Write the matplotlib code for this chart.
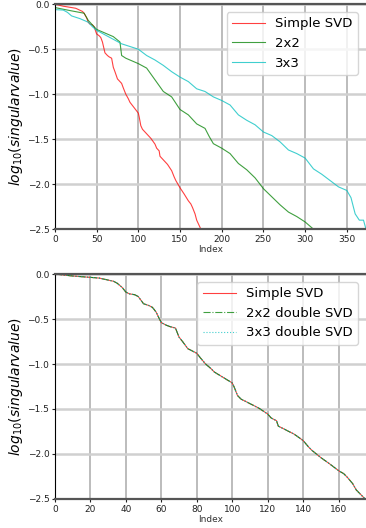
import numpy as np
import matplotlib.pyplot as plt

# Simple SVD (176 singular values), read at sample indices
simple_idx = [0, 10, 20, 25, 30, 33, 35, 38, 40, 42, 45, 47, 50, 53, 55, 57, 60, 63, 65, 68,
              70, 72, 75, 78, 80, 82, 85, 88, 90, 95, 100, 101, 103, 105, 110, 115, 120, 122,
              125, 126, 130, 135, 140, 143, 145, 150, 155, 160, 163, 165, 168, 170, 175]
simple_val = [0.0, -0.022, -0.037, -0.045, -0.067, -0.08, -0.10, -0.15, -0.20, -0.22, -0.23,
              -0.25, -0.33, -0.35, -0.37, -0.42, -0.54, -0.57, -0.585, -0.60, -0.70, -0.75,
              -0.83, -0.86, -0.88, -0.93, -1.00, -1.05, -1.09, -1.15, -1.21, -1.25, -1.35,
              -1.39, -1.44, -1.49, -1.555, -1.60, -1.63, -1.69, -1.73, -1.78, -1.85, -1.92,
              -1.96, -2.04, -2.11, -2.185, -2.22, -2.26, -2.33, -2.40, -2.50]

# 2x2 blocks
idx_2x2 = [0, 20, 35, 40, 45, 50, 60, 70, 78, 80, 85, 100, 110, 120, 130, 140, 150, 160, 170,
           180, 185, 190, 200, 210, 220, 230, 240, 250, 260, 270, 280, 290, 300, 310]
val_2x2 = [-0.037, -0.074, -0.10, -0.18, -0.23, -0.28, -0.32, -0.36, -0.42, -0.57, -0.60,
           -0.66, -0.71, -0.84, -0.97, -1.03, -1.17, -1.23, -1.33, -1.38, -1.47, -1.55, -1.60,
           -1.66, -1.77, -1.84, -1.93, -2.05, -2.14, -2.23, -2.31, -2.36, -2.42, -2.50]

# 3x3 blocks
idx_3x3 = [0, 10, 15, 20, 30, 40, 45, 50, 60, 70, 80, 90, 100, 110, 120, 130, 140, 150, 160,
           170, 180, 190, 200, 210, 220, 230, 240, 250, 260, 270, 280, 290, 300, 310, 320,
           330, 340, 350, 355, 360, 365, 370, 373]
val_3x3 = [-0.06, -0.065, -0.09, -0.13, -0.16, -0.20, -0.25, -0.29, -0.34, -0.39, -0.44,
           -0.47, -0.50, -0.57, -0.62, -0.68, -0.75, -0.81, -0.86, -0.94, -0.97, -1.03, -1.07,
           -1.12, -1.23, -1.29, -1.34, -1.42, -1.46, -1.53, -1.62, -1.66, -1.71, -1.83, -1.89,
           -1.96, -2.03, -2.07, -2.15, -2.33, -2.40, -2.40, -2.50]

fig = plt.figure(figsize=(3.66, 5.28), dpi=100)
ax1 = fig.add_axes([0.150, 0.566, 0.850, 0.426])
ax2 = fig.add_axes([0.150, 0.055, 0.850, 0.426])


def style(ax, xmax):
    ax.set_xlim(0, xmax)
    ax.set_ylim(-2.5, 0.0)
    ax.set_yticks([0.0, -0.5, -1.0, -1.5, -2.0, -2.5])
    ax.xaxis.grid(True, color='#b0b0b0', linewidth=1.2)
    ax.yaxis.grid(True, color='#d0d0d0', linewidth=1.8)
    ax.set_axisbelow(True)
    ax.spines['right'].set_visible(False)
    ax.spines['top'].set_color('#555555')
    ax.spines['bottom'].set_color('#555555')
    ax.spines['top'].set_linewidth(1.6)
    ax.spines['bottom'].set_linewidth(1.6)
    ax.tick_params(labelsize=6.5, length=2.5, pad=1.5, colors='#222222')
    ax.set_xlabel('Index', fontsize=6.5, labelpad=1, color='#333333')
    ax.set_ylabel('$log_{10}(singular value)$', fontsize=10, labelpad=2)


ax1.plot(simple_idx, simple_val, color='red', alpha=0.75, linewidth=0.8, label='Simple SVD')
ax1.plot(idx_2x2, val_2x2, color='green', alpha=0.75, linewidth=0.8, label='2x2')
ax1.plot(idx_3x3, val_3x3, color='c', alpha=0.75, linewidth=0.8, label='3x3')
style(ax1, 373)
ax1.legend(loc='upper right', fontsize=9.5, handlelength=2.5, borderaxespad=0.6)

ax2.plot(simple_idx, simple_val, color='red', alpha=0.75, linewidth=0.8, label='Simple SVD')
ax2.plot(simple_idx, simple_val, color='green', alpha=0.75, linewidth=0.8, linestyle='-.',
         label='2x2 double SVD')
ax2.plot(simple_idx, simple_val, color='c', alpha=0.75, linewidth=0.8, linestyle=':',
         label='3x3 double SVD')
style(ax2, 175.5)
ax2.set_xticks(np.arange(0, 176, 20))
ax2.legend(loc='upper right', fontsize=9.5, handlelength=2.5, borderaxespad=0.6)

fig.savefig('out.png', dpi=100)
